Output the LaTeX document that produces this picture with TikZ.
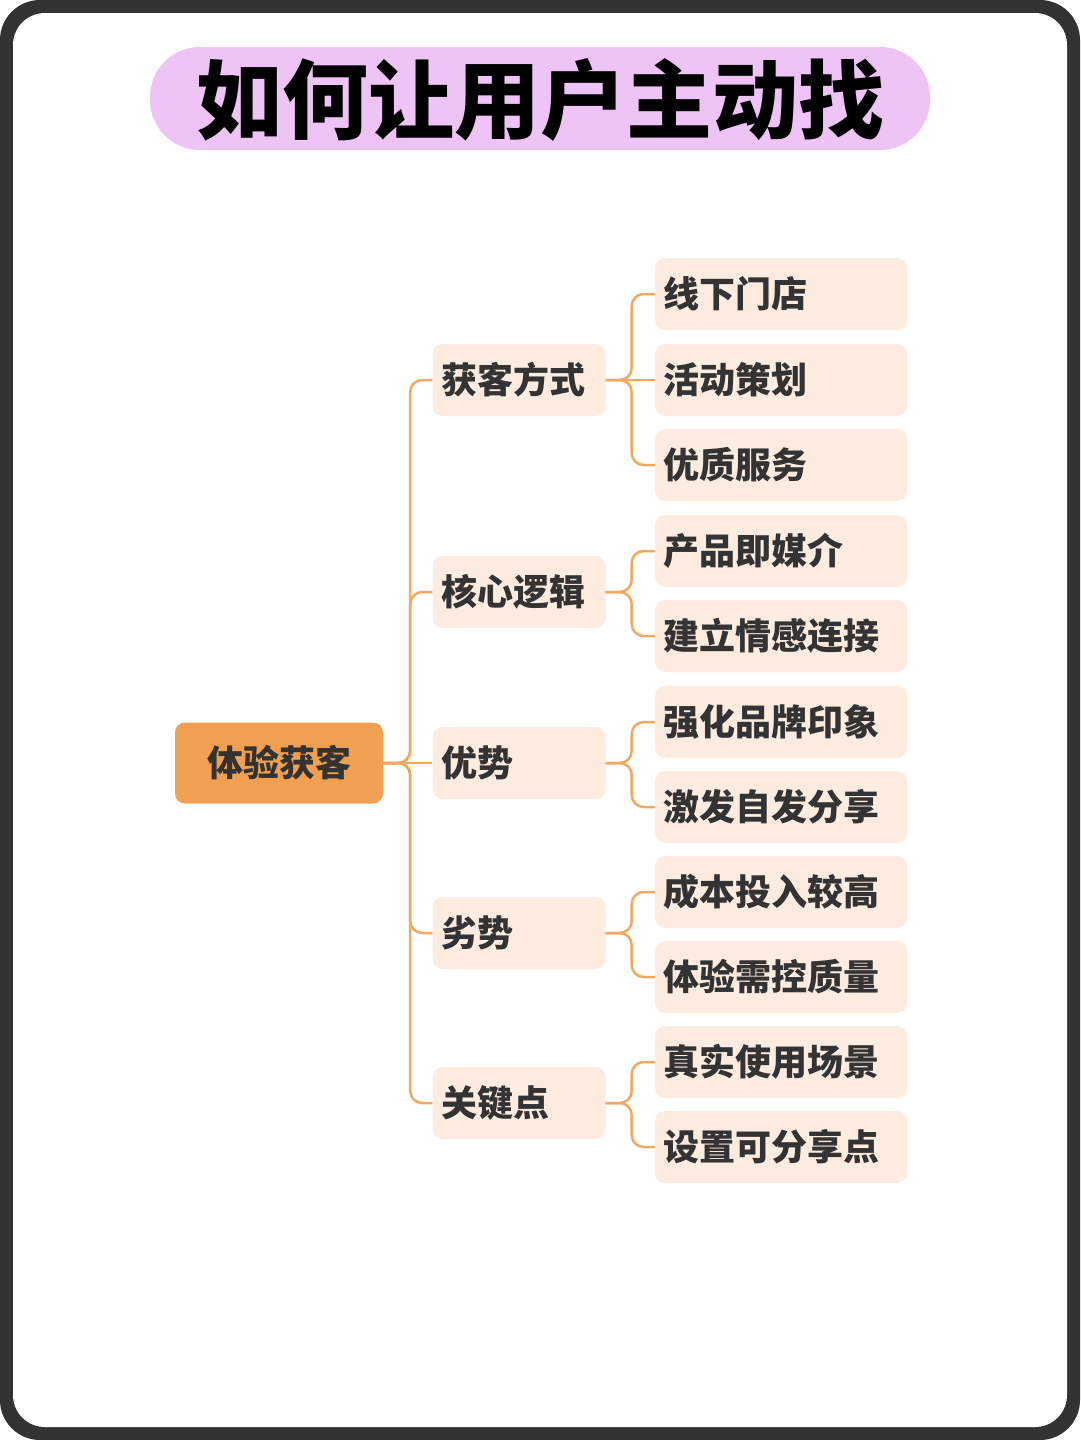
\documentclass[tikz,border=0pt]{standalone}
\usepackage{fontspec}
\setmainfont{Noto Sans CJK SC}
\definecolor{frame}{HTML}{333333}
\definecolor{pill}{HTML}{EEC3F5}
\definecolor{rootc}{HTML}{F0A050}
\definecolor{boxc}{HTML}{FDECDF}
\definecolor{linec}{HTML}{F2A860}
\definecolor{txt}{HTML}{333333}
\begin{document}
\begin{tikzpicture}[x=1pt,y=-1pt,
  l2/.style={fill=boxc,rounded corners=10pt,minimum width=173pt,minimum height=72pt,text width=155pt,align=left,inner sep=0pt,font=\fontsize{36}{40}\selectfont\bfseries,text=txt},
  l3/.style={fill=boxc,rounded corners=10pt,minimum width=252pt,minimum height=72pt,text width=236pt,align=left,inner sep=0pt,font=\fontsize{36}{40}\selectfont\bfseries,text=txt},
  edge/.style={draw=linec,line width=2.5pt,rounded corners=12pt}]
\useasboundingbox (0,0) rectangle (1080,1440);
\fill[frame] (0,0) [rounded corners=40pt] rectangle (1080,1440);
\fill[white,rounded corners=32pt] (13,13) rectangle (1067,1427);
\fill[pill,rounded corners=50pt] (150,47) rectangle (930,150);
\node[font=\fontsize{86}{90}\selectfont\bfseries,text=black] (title) at (540,100) {如何让用户主动找};
\node[fill=rootc,rounded corners=10pt,minimum width=208pt,minimum height=81pt,font=\fontsize{36}{40}\selectfont\bfseries,text=txt] (root) at (279,763) {体验获客};
\node[l2] (a) at (519,380) {获客方式};
\node[l2] (b) at (519,592) {核心逻辑};
\node[l2] (c) at (519,763) {优势};
\node[l2] (d) at (519,933) {劣势};
\node[l2] (e) at (519,1103) {关键点};
\node[l3] (a1) at (781,294) {线下门店};
\node[l3] (a2) at (781,380) {活动策划};
\node[l3] (a3) at (781,465) {优质服务};
\node[l3] (b1) at (781,551) {产品即媒介};
\node[l3] (b2) at (781,636) {建立情感连接};
\node[l3] (c1) at (781,722) {强化品牌印象};
\node[l3] (c2) at (781,807) {激发自发分享};
\node[l3] (d1) at (781,892) {成本投入较高};
\node[l3] (d2) at (781,977) {体验需控质量};
\node[l3] (e1) at (781,1062) {真实使用场景};
\node[l3] (e2) at (781,1147) {设置可分享点};
\foreach \n in {a,b,d,e} \draw[edge] (root.east) -- ++(27,0) |- (\n.west);
\draw[edge] (root.east) -- (c.west);
\foreach \p/\q in {a/a1,a/a3,b/b1,b/b2,c/c1,c/c2,d/d1,d/d2,e/e1,e/e2} \draw[edge] (\p.east) -- ++(26,0) |- (\q.west);
\draw[edge] (a.east) -- (a2.west);
\end{tikzpicture}
\end{document}
